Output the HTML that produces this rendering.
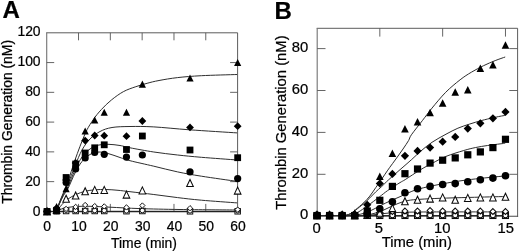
<!DOCTYPE html>
<html><head><meta charset="utf-8"><title>Thrombin Generation</title>
<style>
html,body{margin:0;padding:0;background:#fff;}
body{width:520px;height:252px;overflow:hidden;font-family:"Liberation Sans",sans-serif;}
svg{display:block;filter:blur(0.3px);}
svg text{font-family:"Liberation Sans",sans-serif;fill:#000;stroke:#000;stroke-width:0.22px;}
</style></head>
<body>
<svg width="520" height="252" viewBox="0 0 520 252">
<rect width="520" height="252" fill="#fff"/>
<path d="M46.20 32.80 H237.60 V211.90" fill="none" stroke="#4a4a4a" stroke-width="0.9"/>
<path d="M46.70 32.80 V211.90" fill="none" stroke="#777" stroke-width="1.15"/>
<path d="M46.20 211.40 H238.10" fill="none" stroke="#4a4a4a" stroke-width="1.1"/>
<path d="M78.52 32.80 v7.50 M78.52 211.40 v-7.50" stroke="#555" stroke-width="0.9"/>
<path d="M110.33 32.80 v7.50 M110.33 211.40 v-7.50" stroke="#555" stroke-width="0.9"/>
<path d="M142.15 32.80 v7.50 M142.15 211.40 v-7.50" stroke="#555" stroke-width="0.9"/>
<path d="M173.97 32.80 v7.50 M173.97 211.40 v-7.50" stroke="#555" stroke-width="0.9"/>
<path d="M205.78 32.80 v7.50 M205.78 211.40 v-7.50" stroke="#555" stroke-width="0.9"/>
<path d="M46.70 181.63 h7.50 M237.60 181.63 h-7.50" stroke="#555" stroke-width="0.9"/>
<path d="M46.70 151.87 h7.50 M237.60 151.87 h-7.50" stroke="#555" stroke-width="0.9"/>
<path d="M46.70 122.10 h7.50 M237.60 122.10 h-7.50" stroke="#555" stroke-width="0.9"/>
<path d="M46.70 92.33 h7.50 M237.60 92.33 h-7.50" stroke="#555" stroke-width="0.9"/>
<path d="M46.70 62.57 h7.50 M237.60 62.57 h-7.50" stroke="#555" stroke-width="0.9"/>
<path d="M56.50 211.00 C57.02 209.50 58.43 205.08 59.60 202.00 C60.77 198.92 62.10 195.92 63.50 192.50 C64.90 189.08 66.08 186.92 68.00 181.50 C69.92 176.08 72.17 167.92 75.00 160.00 C77.83 152.08 82.00 140.67 85.00 134.00 C88.00 127.33 90.27 124.08 93.00 120.00 C95.73 115.92 98.33 112.83 101.40 109.50 C104.47 106.17 107.75 102.97 111.40 100.00 C115.05 97.03 119.33 93.88 123.30 91.70 C127.27 89.52 131.23 88.30 135.20 86.90 C139.17 85.50 143.13 84.37 147.10 83.30 C151.07 82.23 153.92 81.45 159.00 80.50 C164.08 79.55 170.53 78.40 177.60 77.60 C184.67 76.80 191.48 76.22 201.40 75.70 C211.32 75.18 231.15 74.70 237.10 74.50" fill="none" stroke="#2e2e2e" stroke-width="1"/>
<path d="M56.50 211.00 C57.02 209.58 58.43 205.42 59.60 202.50 C60.77 199.58 62.10 196.58 63.50 193.50 C64.90 190.42 66.08 188.58 68.00 184.00 C69.92 179.42 72.67 171.67 75.00 166.00 C77.33 160.33 79.50 154.50 82.00 150.00 C84.50 145.50 87.00 142.08 90.00 139.00 C93.00 135.92 96.33 133.42 100.00 131.50 C103.67 129.58 107.00 128.33 112.00 127.50 C117.00 126.67 123.03 126.60 130.00 126.50 C136.97 126.40 143.88 126.35 153.80 126.90 C163.72 127.45 175.62 128.80 189.50 129.80 C203.38 130.80 229.17 132.38 237.10 132.90" fill="none" stroke="#2e2e2e" stroke-width="1"/>
<path d="M56.50 211.00 C57.02 209.67 58.43 205.75 59.60 203.00 C60.77 200.25 62.10 197.25 63.50 194.50 C64.90 191.75 66.08 190.58 68.00 186.50 C69.92 182.42 72.67 174.92 75.00 170.00 C77.33 165.08 79.50 160.50 82.00 157.00 C84.50 153.50 87.33 150.97 90.00 149.00 C92.67 147.03 95.00 145.98 98.00 145.20 C101.00 144.42 104.33 144.25 108.00 144.30 C111.67 144.35 116.33 144.92 120.00 145.50 C123.67 146.08 124.37 146.72 130.00 147.80 C135.63 148.88 145.87 150.80 153.80 152.00 C161.73 153.20 169.67 154.12 177.60 155.00 C185.53 155.88 191.48 156.47 201.40 157.30 C211.32 158.13 231.15 159.55 237.10 160.00" fill="none" stroke="#2e2e2e" stroke-width="1"/>
<path d="M56.50 211.00 C57.02 209.75 58.43 206.08 59.60 203.50 C60.77 200.92 62.10 198.00 63.50 195.50 C64.90 193.00 66.08 192.25 68.00 188.50 C69.92 184.75 72.67 177.50 75.00 173.00 C77.33 168.50 79.50 164.58 82.00 161.50 C84.50 158.42 87.33 156.08 90.00 154.50 C92.67 152.92 95.00 152.17 98.00 152.00 C101.00 151.83 104.33 152.58 108.00 153.50 C111.67 154.42 116.33 156.30 120.00 157.50 C123.67 158.70 124.37 159.25 130.00 160.70 C135.63 162.15 145.87 164.33 153.80 166.20 C161.73 168.07 169.67 170.23 177.60 171.90 C185.53 173.57 191.48 174.62 201.40 176.20 C211.32 177.78 231.15 180.53 237.10 181.40" fill="none" stroke="#2e2e2e" stroke-width="1"/>
<path d="M57.00 211.00 C57.83 209.92 60.17 206.50 62.00 204.50 C63.83 202.50 65.67 200.67 68.00 199.00 C70.33 197.33 73.17 195.78 76.00 194.50 C78.83 193.22 81.83 192.08 85.00 191.30 C88.17 190.52 91.50 190.10 95.00 189.80 C98.50 189.50 102.17 189.42 106.00 189.50 C109.83 189.58 114.00 189.93 118.00 190.30 C122.00 190.67 124.03 191.00 130.00 191.70 C135.97 192.40 145.87 193.52 153.80 194.50 C161.73 195.48 169.67 196.65 177.60 197.60 C185.53 198.55 191.48 199.32 201.40 200.20 C211.32 201.08 231.15 202.45 237.10 202.90" fill="none" stroke="#2e2e2e" stroke-width="1"/>
<path d="M57.00 211.00 C58.17 210.53 61.00 208.93 64.00 208.20 C67.00 207.47 70.67 206.92 75.00 206.60 C79.33 206.28 84.17 206.20 90.00 206.30 C95.83 206.40 101.67 206.82 110.00 207.20 C118.33 207.58 128.33 208.22 140.00 208.60 C151.67 208.98 163.82 209.27 180.00 209.50 C196.18 209.73 227.58 209.92 237.10 210.00" fill="none" stroke="#2e2e2e" stroke-width="1"/>
<path d="M46.70 211.60 H237.60" stroke="#222" stroke-width="1.2"/>
<rect x="44.30" y="208.75" width="5.50" height="5.50" fill="#fff" stroke="#0a0a0a" stroke-width="0.95"/>
<rect x="53.83" y="208.55" width="5.50" height="5.50" fill="#fff" stroke="#0a0a0a" stroke-width="0.95"/>
<rect x="63.36" y="208.25" width="5.50" height="5.50" fill="#fff" stroke="#0a0a0a" stroke-width="0.95"/>
<rect x="72.89" y="208.25" width="5.50" height="5.50" fill="#fff" stroke="#0a0a0a" stroke-width="0.95"/>
<rect x="82.42" y="208.25" width="5.50" height="5.50" fill="#fff" stroke="#0a0a0a" stroke-width="0.95"/>
<rect x="91.95" y="208.25" width="5.50" height="5.50" fill="#fff" stroke="#0a0a0a" stroke-width="0.95"/>
<rect x="101.49" y="208.25" width="5.50" height="5.50" fill="#fff" stroke="#0a0a0a" stroke-width="0.95"/>
<rect x="123.72" y="208.45" width="5.50" height="5.50" fill="#fff" stroke="#0a0a0a" stroke-width="0.95"/>
<rect x="139.61" y="208.25" width="5.50" height="5.50" fill="#fff" stroke="#0a0a0a" stroke-width="0.95"/>
<rect x="187.26" y="208.55" width="5.50" height="5.50" fill="#fff" stroke="#0a0a0a" stroke-width="0.95"/>
<rect x="234.92" y="208.55" width="5.50" height="5.50" fill="#fff" stroke="#0a0a0a" stroke-width="0.95"/>
<circle cx="47.05" cy="211.50" r="2.30" fill="#fff" stroke="#0a0a0a" stroke-width="0.95"/>
<circle cx="56.58" cy="211.30" r="2.30" fill="#fff" stroke="#0a0a0a" stroke-width="0.95"/>
<circle cx="66.11" cy="210.20" r="2.30" fill="#fff" stroke="#0a0a0a" stroke-width="0.95"/>
<circle cx="75.64" cy="210.50" r="2.30" fill="#fff" stroke="#0a0a0a" stroke-width="0.95"/>
<circle cx="85.17" cy="210.50" r="2.30" fill="#fff" stroke="#0a0a0a" stroke-width="0.95"/>
<circle cx="94.70" cy="210.50" r="2.30" fill="#fff" stroke="#0a0a0a" stroke-width="0.95"/>
<circle cx="104.24" cy="210.50" r="2.30" fill="#fff" stroke="#0a0a0a" stroke-width="0.95"/>
<circle cx="126.47" cy="210.80" r="2.30" fill="#fff" stroke="#0a0a0a" stroke-width="0.95"/>
<circle cx="142.36" cy="210.50" r="2.30" fill="#fff" stroke="#0a0a0a" stroke-width="0.95"/>
<circle cx="190.01" cy="210.80" r="2.30" fill="#fff" stroke="#0a0a0a" stroke-width="0.95"/>
<circle cx="237.67" cy="210.80" r="2.30" fill="#fff" stroke="#0a0a0a" stroke-width="0.95"/>
<path d="M47.05 208.65 L49.70 211.30 L47.05 213.95 L44.40 211.30 Z" fill="#fff" stroke="#0a0a0a" stroke-width="0.95"/>
<path d="M56.58 207.85 L59.23 210.50 L56.58 213.15 L53.93 210.50 Z" fill="#fff" stroke="#0a0a0a" stroke-width="0.95"/>
<path d="M66.11 206.25 L68.76 208.90 L66.11 211.55 L63.46 208.90 Z" fill="#fff" stroke="#0a0a0a" stroke-width="0.95"/>
<path d="M75.64 204.25 L78.29 206.90 L75.64 209.55 L72.99 206.90 Z" fill="#fff" stroke="#0a0a0a" stroke-width="0.95"/>
<path d="M85.17 202.35 L87.82 205.00 L85.17 207.65 L82.52 205.00 Z" fill="#fff" stroke="#0a0a0a" stroke-width="0.95"/>
<path d="M94.70 203.45 L97.36 206.10 L94.70 208.75 L92.05 206.10 Z" fill="#fff" stroke="#0a0a0a" stroke-width="0.95"/>
<path d="M104.24 203.75 L106.89 206.40 L104.24 209.05 L101.59 206.40 Z" fill="#fff" stroke="#0a0a0a" stroke-width="0.95"/>
<path d="M126.47 204.75 L129.12 207.40 L126.47 210.05 L123.82 207.40 Z" fill="#fff" stroke="#0a0a0a" stroke-width="0.95"/>
<path d="M142.36 202.85 L145.01 205.50 L142.36 208.15 L139.71 205.50 Z" fill="#fff" stroke="#0a0a0a" stroke-width="0.95"/>
<path d="M190.01 205.55 L192.66 208.20 L190.01 210.85 L187.36 208.20 Z" fill="#fff" stroke="#0a0a0a" stroke-width="0.95"/>
<path d="M237.67 206.95 L240.32 209.60 L237.67 212.25 L235.02 209.60 Z" fill="#fff" stroke="#0a0a0a" stroke-width="0.95"/>
<path d="M47.05 207.90 L50.35 214.90 L43.75 214.90 Z" fill="#fff" stroke="#0a0a0a" stroke-width="1.05"/>
<path d="M56.58 206.40 L59.88 213.40 L53.28 213.40 Z" fill="#fff" stroke="#0a0a0a" stroke-width="1.05"/>
<path d="M66.11 195.30 L69.41 202.30 L62.81 202.30 Z" fill="#fff" stroke="#0a0a0a" stroke-width="1.05"/>
<path d="M75.64 192.00 L78.94 199.00 L72.34 199.00 Z" fill="#fff" stroke="#0a0a0a" stroke-width="1.05"/>
<path d="M85.17 187.70 L88.47 194.70 L81.87 194.70 Z" fill="#fff" stroke="#0a0a0a" stroke-width="1.05"/>
<path d="M94.70 186.40 L98.00 193.40 L91.41 193.40 Z" fill="#fff" stroke="#0a0a0a" stroke-width="1.05"/>
<path d="M104.24 186.40 L107.54 193.40 L100.94 193.40 Z" fill="#fff" stroke="#0a0a0a" stroke-width="1.05"/>
<path d="M126.47 191.10 L129.78 198.10 L123.17 198.10 Z" fill="#fff" stroke="#0a0a0a" stroke-width="1.05"/>
<path d="M142.36 186.90 L145.66 193.90 L139.06 193.90 Z" fill="#fff" stroke="#0a0a0a" stroke-width="1.05"/>
<path d="M190.01 179.50 L193.31 186.50 L186.71 186.50 Z" fill="#fff" stroke="#0a0a0a" stroke-width="1.05"/>
<path d="M237.67 187.10 L240.97 194.10 L234.37 194.10 Z" fill="#fff" stroke="#0a0a0a" stroke-width="1.05"/>
<circle cx="47.05" cy="211.50" r="3.60" fill="#000"/>
<circle cx="56.58" cy="209.50" r="3.60" fill="#000"/>
<circle cx="66.11" cy="182.50" r="3.60" fill="#000"/>
<circle cx="75.64" cy="169.00" r="3.60" fill="#000"/>
<circle cx="85.17" cy="158.00" r="3.60" fill="#000"/>
<circle cx="94.70" cy="152.50" r="3.60" fill="#000"/>
<circle cx="104.24" cy="154.30" r="3.60" fill="#000"/>
<circle cx="126.47" cy="157.10" r="3.60" fill="#000"/>
<circle cx="142.36" cy="155.00" r="3.60" fill="#000"/>
<circle cx="190.01" cy="171.90" r="3.60" fill="#000"/>
<circle cx="237.67" cy="178.60" r="3.60" fill="#000"/>
<rect x="43.65" y="208.15" width="6.80" height="6.80" fill="#000"/>
<rect x="53.18" y="206.90" width="6.80" height="6.80" fill="#000"/>
<rect x="62.71" y="174.10" width="6.80" height="6.80" fill="#000"/>
<rect x="72.24" y="160.60" width="6.80" height="6.80" fill="#000"/>
<rect x="81.77" y="149.60" width="6.80" height="6.80" fill="#000"/>
<rect x="91.30" y="144.40" width="6.80" height="6.80" fill="#000"/>
<rect x="100.84" y="141.40" width="6.80" height="6.80" fill="#000"/>
<rect x="123.07" y="146.10" width="6.80" height="6.80" fill="#000"/>
<rect x="138.96" y="132.60" width="6.80" height="6.80" fill="#000"/>
<rect x="186.61" y="146.60" width="6.80" height="6.80" fill="#000"/>
<rect x="234.27" y="154.30" width="6.80" height="6.80" fill="#000"/>
<path d="M47.05 207.60 L50.95 211.50 L47.05 215.40 L43.15 211.50 Z" fill="#000"/>
<path d="M56.58 204.60 L60.48 208.50 L56.58 212.40 L52.68 208.50 Z" fill="#000"/>
<path d="M66.11 176.10 L70.01 180.00 L66.11 183.90 L62.21 180.00 Z" fill="#000"/>
<path d="M75.64 159.10 L79.54 163.00 L75.64 166.90 L71.74 163.00 Z" fill="#000"/>
<path d="M85.17 136.70 L89.07 140.60 L85.17 144.50 L81.27 140.60 Z" fill="#000"/>
<path d="M94.70 131.60 L98.61 135.50 L94.70 139.40 L90.80 135.50 Z" fill="#000"/>
<path d="M104.24 131.80 L108.14 135.70 L104.24 139.60 L100.34 135.70 Z" fill="#000"/>
<path d="M126.47 132.30 L130.38 136.20 L126.47 140.10 L122.57 136.20 Z" fill="#000"/>
<path d="M142.36 117.10 L146.26 121.00 L142.36 124.90 L138.46 121.00 Z" fill="#000"/>
<path d="M190.01 123.50 L193.91 127.40 L190.01 131.30 L186.11 127.40 Z" fill="#000"/>
<path d="M237.67 122.30 L241.57 126.20 L237.67 130.10 L233.77 126.20 Z" fill="#000"/>
<path d="M47.05 207.80 L50.65 214.90 L43.45 214.90 Z" fill="#000"/>
<path d="M56.58 203.00 L60.18 210.10 L52.98 210.10 Z" fill="#000"/>
<path d="M66.11 185.10 L69.71 192.20 L62.51 192.20 Z" fill="#000"/>
<path d="M75.64 162.30 L79.24 169.40 L72.04 169.40 Z" fill="#000"/>
<path d="M85.17 127.50 L88.77 134.60 L81.57 134.60 Z" fill="#000"/>
<path d="M94.70 116.50 L98.31 123.60 L91.10 123.60 Z" fill="#000"/>
<path d="M104.24 108.70 L107.84 115.80 L100.64 115.80 Z" fill="#000"/>
<path d="M126.47 108.70 L130.07 115.80 L122.87 115.80 Z" fill="#000"/>
<path d="M142.36 80.60 L145.96 87.70 L138.76 87.70 Z" fill="#000"/>
<path d="M190.01 74.40 L193.61 81.50 L186.41 81.50 Z" fill="#000"/>
<path d="M237.67 58.90 L241.27 66.00 L234.07 66.00 Z" fill="#000"/>
<text x="40.60" y="35.80" font-size="13.90" text-anchor="end" font-weight="normal" >120</text>
<text x="40.60" y="65.80" font-size="13.90" text-anchor="end" font-weight="normal" >100</text>
<text x="40.60" y="95.80" font-size="13.90" text-anchor="end" font-weight="normal" >80</text>
<text x="40.60" y="125.80" font-size="13.90" text-anchor="end" font-weight="normal" >60</text>
<text x="40.60" y="155.80" font-size="13.90" text-anchor="end" font-weight="normal" >40</text>
<text x="40.60" y="185.80" font-size="13.90" text-anchor="end" font-weight="normal" >20</text>
<text x="40.60" y="215.80" font-size="13.90" text-anchor="end" font-weight="normal" >0</text>
<text x="47.20" y="231.40" font-size="13.90" text-anchor="middle" font-weight="normal" >0</text>
<text x="79.02" y="231.40" font-size="13.90" text-anchor="middle" font-weight="normal" >10</text>
<text x="110.83" y="231.40" font-size="13.90" text-anchor="middle" font-weight="normal" >20</text>
<text x="142.65" y="231.40" font-size="13.90" text-anchor="middle" font-weight="normal" >30</text>
<text x="174.47" y="231.40" font-size="13.90" text-anchor="middle" font-weight="normal" >40</text>
<text x="206.28" y="231.40" font-size="13.90" text-anchor="middle" font-weight="normal" >50</text>
<text x="238.10" y="231.40" font-size="13.90" text-anchor="middle" font-weight="normal" >60</text>
<text x="144.00" y="247.50" font-size="13.90" text-anchor="middle" font-weight="normal" >Time (min)</text>
<text transform="translate(12.0 121.8) rotate(-90)" font-size="13.90" text-anchor="middle">Thrombin Generation (nM)</text>
<text x="2.60" y="18.40" font-size="24.00" text-anchor="start" font-weight="bold" >A</text>
<path d="M316.70 28.30 H517.60 V216.80" fill="none" stroke="#4a4a4a" stroke-width="0.9"/>
<path d="M317.20 28.30 V216.80" fill="none" stroke="#777" stroke-width="1.15"/>
<path d="M316.70 216.30 H518.10" fill="none" stroke="#4a4a4a" stroke-width="1.1"/>
<path d="M379.82 28.30 v8.30 M379.82 216.30 v-8.30" stroke="#555" stroke-width="0.9"/>
<path d="M442.65 28.30 v8.30 M442.65 216.30 v-8.30" stroke="#555" stroke-width="0.9"/>
<path d="M505.48 28.30 v8.30 M505.48 216.30 v-8.30" stroke="#555" stroke-width="0.9"/>
<path d="M317.20 174.30 h8.30 M517.60 174.30 h-8.30" stroke="#555" stroke-width="0.9"/>
<path d="M317.20 132.40 h8.30 M517.60 132.40 h-8.30" stroke="#555" stroke-width="0.9"/>
<path d="M317.20 90.50 h8.30 M517.60 90.50 h-8.30" stroke="#555" stroke-width="0.9"/>
<path d="M317.20 48.60 h8.30 M517.60 48.60 h-8.30" stroke="#555" stroke-width="0.9"/>
<path d="M340.00 215.80 C341.00 215.70 344.17 215.62 346.00 215.20 C347.83 214.78 349.42 214.20 351.00 213.30 C352.58 212.40 353.37 211.58 355.50 209.80 C357.63 208.02 361.42 204.88 363.80 202.60 C366.18 200.32 367.82 198.58 369.80 196.10 C371.78 193.62 373.82 190.38 375.70 187.70 C377.58 185.02 379.55 182.25 381.10 180.00 C382.65 177.75 383.55 176.32 385.00 174.20 C386.45 172.08 387.98 169.83 389.80 167.30 C391.62 164.77 393.70 162.05 395.90 159.00 C398.10 155.95 400.88 152.08 403.00 149.00 C405.12 145.92 407.20 142.87 408.60 140.50 C410.00 138.13 409.07 138.17 411.40 134.80 C413.73 131.43 419.17 124.75 422.60 120.30 C426.03 115.85 428.15 112.77 432.00 108.10 C435.85 103.43 441.02 97.02 445.70 92.30 C450.38 87.58 455.82 83.15 460.10 79.80 C464.38 76.45 467.53 74.53 471.40 72.20 C475.27 69.87 479.33 67.73 483.30 65.80 C487.27 63.87 491.55 62.07 495.20 60.60 C498.85 59.13 503.53 57.60 505.20 57.00" fill="none" stroke="#2e2e2e" stroke-width="1"/>
<path d="M340.00 215.80 C341.00 215.72 344.17 215.67 346.00 215.30 C347.83 214.93 349.42 214.45 351.00 213.60 C352.58 212.75 353.37 211.87 355.50 210.20 C357.63 208.53 361.42 205.65 363.80 203.60 C366.18 201.55 367.82 199.85 369.80 197.90 C371.78 195.95 373.72 193.80 375.70 191.90 C377.68 190.00 379.55 188.52 381.70 186.50 C383.85 184.48 385.55 182.60 388.60 179.80 C391.65 177.00 396.15 173.08 400.00 169.70 C403.85 166.32 408.25 162.58 411.70 159.50 C415.15 156.42 417.32 154.07 420.70 151.20 C424.08 148.33 427.78 145.13 432.00 142.30 C436.22 139.47 441.68 136.55 446.00 134.20 C450.32 131.85 453.93 129.90 457.90 128.20 C461.87 126.50 465.83 125.28 469.80 124.00 C473.77 122.72 477.93 121.52 481.70 120.50 C485.47 119.48 489.35 118.60 492.40 117.90 C495.45 117.20 497.87 116.72 500.00 116.30 C502.13 115.88 504.33 115.55 505.20 115.40" fill="none" stroke="#2e2e2e" stroke-width="1"/>
<path d="M342.00 215.90 C343.33 215.78 347.33 215.82 350.00 215.20 C352.67 214.58 355.10 213.75 358.00 212.20 C360.90 210.65 363.85 208.43 367.40 205.90 C370.95 203.37 375.93 199.55 379.30 197.00 C382.67 194.45 384.15 193.00 387.60 190.60 C391.05 188.20 397.07 184.43 400.00 182.60 C402.93 180.77 401.75 181.77 405.20 179.60 C408.65 177.43 416.13 172.35 420.70 169.60 C425.27 166.85 428.38 165.30 432.60 163.10 C436.82 160.90 440.80 158.50 446.00 156.40 C451.20 154.30 458.85 151.98 463.80 150.50 C468.75 149.02 471.73 148.33 475.70 147.50 C479.67 146.67 483.55 146.10 487.60 145.50 C491.65 144.90 497.07 144.27 500.00 143.90 C502.93 143.53 504.33 143.40 505.20 143.30" fill="none" stroke="#2e2e2e" stroke-width="1"/>
<path d="M344.00 216.00 C345.83 215.87 351.50 215.70 355.00 215.20 C358.50 214.70 362.00 213.95 365.00 213.00 C368.00 212.05 370.22 210.83 373.00 209.50 C375.78 208.17 378.87 206.42 381.70 205.00 C384.53 203.58 386.95 202.38 390.00 201.00 C393.05 199.62 396.35 198.32 400.00 196.70 C403.65 195.08 407.93 192.80 411.90 191.30 C415.87 189.80 417.85 189.10 423.80 187.70 C429.75 186.30 439.67 184.28 447.60 182.90 C455.53 181.52 461.80 180.57 471.40 179.40 C481.00 178.23 499.57 176.48 505.20 175.90" fill="none" stroke="#2e2e2e" stroke-width="1"/>
<path d="M350.00 216.00 C352.50 215.87 360.33 215.82 365.00 215.20 C369.67 214.58 374.17 213.50 378.00 212.30 C381.83 211.10 384.67 209.47 388.00 208.00 C391.33 206.53 394.67 204.75 398.00 203.50 C401.33 202.25 404.33 201.20 408.00 200.50 C411.67 199.80 414.67 199.67 420.00 199.30 C425.33 198.93 431.67 198.62 440.00 198.30 C448.33 197.98 459.13 197.70 470.00 197.40 C480.87 197.10 499.33 196.65 505.20 196.50" fill="none" stroke="#2e2e2e" stroke-width="1"/>
<path d="M355.00 216.00 C357.50 215.87 365.00 215.63 370.00 215.20 C375.00 214.77 380.00 213.87 385.00 213.40 C390.00 212.93 394.17 212.63 400.00 212.40 C405.83 212.17 411.67 212.08 420.00 212.00 C428.33 211.92 435.80 211.92 450.00 211.90 C464.20 211.88 496.00 211.90 505.20 211.90" fill="none" stroke="#2e2e2e" stroke-width="1"/>
<path d="M317.20 215.50 H505.48" stroke="#2a2a2a" stroke-width="1.2"/>
<rect x="313.98" y="212.47" width="6.05" height="6.05" fill="#fff" stroke="#0a0a0a" stroke-width="1.05"/>
<rect x="326.54" y="212.47" width="6.05" height="6.05" fill="#fff" stroke="#0a0a0a" stroke-width="1.05"/>
<rect x="339.11" y="212.47" width="6.05" height="6.05" fill="#fff" stroke="#0a0a0a" stroke-width="1.05"/>
<rect x="351.67" y="212.47" width="6.05" height="6.05" fill="#fff" stroke="#0a0a0a" stroke-width="1.05"/>
<rect x="364.24" y="212.47" width="6.05" height="6.05" fill="#fff" stroke="#0a0a0a" stroke-width="1.05"/>
<rect x="376.80" y="212.47" width="6.05" height="6.05" fill="#fff" stroke="#0a0a0a" stroke-width="1.05"/>
<rect x="389.37" y="212.47" width="6.05" height="6.05" fill="#fff" stroke="#0a0a0a" stroke-width="1.05"/>
<rect x="401.93" y="212.47" width="6.05" height="6.05" fill="#fff" stroke="#0a0a0a" stroke-width="1.05"/>
<rect x="414.50" y="212.47" width="6.05" height="6.05" fill="#fff" stroke="#0a0a0a" stroke-width="1.05"/>
<rect x="427.06" y="212.47" width="6.05" height="6.05" fill="#fff" stroke="#0a0a0a" stroke-width="1.05"/>
<rect x="439.62" y="212.47" width="6.05" height="6.05" fill="#fff" stroke="#0a0a0a" stroke-width="1.05"/>
<rect x="452.19" y="212.47" width="6.05" height="6.05" fill="#fff" stroke="#0a0a0a" stroke-width="1.05"/>
<rect x="464.75" y="212.47" width="6.05" height="6.05" fill="#fff" stroke="#0a0a0a" stroke-width="1.05"/>
<rect x="477.32" y="212.47" width="6.05" height="6.05" fill="#fff" stroke="#0a0a0a" stroke-width="1.05"/>
<rect x="489.88" y="212.47" width="6.05" height="6.05" fill="#fff" stroke="#0a0a0a" stroke-width="1.05"/>
<rect x="502.45" y="212.47" width="6.05" height="6.05" fill="#fff" stroke="#0a0a0a" stroke-width="1.05"/>
<circle cx="317.00" cy="215.30" r="2.53" fill="#fff" stroke="#0a0a0a" stroke-width="1.05"/>
<circle cx="329.56" cy="215.30" r="2.53" fill="#fff" stroke="#0a0a0a" stroke-width="1.05"/>
<circle cx="342.13" cy="215.30" r="2.53" fill="#fff" stroke="#0a0a0a" stroke-width="1.05"/>
<circle cx="354.69" cy="215.30" r="2.53" fill="#fff" stroke="#0a0a0a" stroke-width="1.05"/>
<circle cx="367.26" cy="215.30" r="2.53" fill="#fff" stroke="#0a0a0a" stroke-width="1.05"/>
<circle cx="379.82" cy="215.30" r="2.53" fill="#fff" stroke="#0a0a0a" stroke-width="1.05"/>
<circle cx="392.39" cy="215.30" r="2.53" fill="#fff" stroke="#0a0a0a" stroke-width="1.05"/>
<circle cx="404.95" cy="215.30" r="2.53" fill="#fff" stroke="#0a0a0a" stroke-width="1.05"/>
<circle cx="417.52" cy="215.30" r="2.53" fill="#fff" stroke="#0a0a0a" stroke-width="1.05"/>
<circle cx="430.08" cy="215.30" r="2.53" fill="#fff" stroke="#0a0a0a" stroke-width="1.05"/>
<circle cx="442.65" cy="215.30" r="2.53" fill="#fff" stroke="#0a0a0a" stroke-width="1.05"/>
<circle cx="455.22" cy="215.30" r="2.53" fill="#fff" stroke="#0a0a0a" stroke-width="1.05"/>
<circle cx="467.78" cy="215.30" r="2.53" fill="#fff" stroke="#0a0a0a" stroke-width="1.05"/>
<circle cx="480.35" cy="215.30" r="2.53" fill="#fff" stroke="#0a0a0a" stroke-width="1.05"/>
<circle cx="492.91" cy="215.30" r="2.53" fill="#fff" stroke="#0a0a0a" stroke-width="1.05"/>
<circle cx="505.48" cy="215.30" r="2.53" fill="#fff" stroke="#0a0a0a" stroke-width="1.05"/>
<path d="M317.00 212.39 L319.92 215.30 L317.00 218.22 L314.08 215.30 Z" fill="#fff" stroke="#0a0a0a" stroke-width="1.05"/>
<path d="M329.56 212.39 L332.48 215.30 L329.56 218.22 L326.65 215.30 Z" fill="#fff" stroke="#0a0a0a" stroke-width="1.05"/>
<path d="M342.13 212.39 L345.05 215.30 L342.13 218.22 L339.21 215.30 Z" fill="#fff" stroke="#0a0a0a" stroke-width="1.05"/>
<path d="M354.69 212.39 L357.61 215.30 L354.69 218.22 L351.78 215.30 Z" fill="#fff" stroke="#0a0a0a" stroke-width="1.05"/>
<path d="M367.26 211.59 L370.18 214.50 L367.26 217.41 L364.34 214.50 Z" fill="#fff" stroke="#0a0a0a" stroke-width="1.05"/>
<path d="M379.82 209.59 L382.74 212.50 L379.82 215.41 L376.91 212.50 Z" fill="#fff" stroke="#0a0a0a" stroke-width="1.05"/>
<path d="M392.39 208.59 L395.31 211.50 L392.39 214.41 L389.47 211.50 Z" fill="#fff" stroke="#0a0a0a" stroke-width="1.05"/>
<path d="M404.95 208.09 L407.87 211.00 L404.95 213.91 L402.04 211.00 Z" fill="#fff" stroke="#0a0a0a" stroke-width="1.05"/>
<path d="M417.52 208.09 L420.44 211.00 L417.52 213.91 L414.60 211.00 Z" fill="#fff" stroke="#0a0a0a" stroke-width="1.05"/>
<path d="M430.08 207.59 L433.00 210.50 L430.08 213.41 L427.17 210.50 Z" fill="#fff" stroke="#0a0a0a" stroke-width="1.05"/>
<path d="M442.65 208.09 L445.56 211.00 L442.65 213.91 L439.73 211.00 Z" fill="#fff" stroke="#0a0a0a" stroke-width="1.05"/>
<path d="M455.22 208.09 L458.13 211.00 L455.22 213.91 L452.30 211.00 Z" fill="#fff" stroke="#0a0a0a" stroke-width="1.05"/>
<path d="M467.78 208.09 L470.69 211.00 L467.78 213.91 L464.86 211.00 Z" fill="#fff" stroke="#0a0a0a" stroke-width="1.05"/>
<path d="M480.35 208.09 L483.26 211.00 L480.35 213.91 L477.43 211.00 Z" fill="#fff" stroke="#0a0a0a" stroke-width="1.05"/>
<path d="M492.91 208.59 L495.82 211.50 L492.91 214.41 L489.99 211.50 Z" fill="#fff" stroke="#0a0a0a" stroke-width="1.05"/>
<path d="M505.48 208.59 L508.39 211.50 L505.48 214.41 L502.56 211.50 Z" fill="#fff" stroke="#0a0a0a" stroke-width="1.05"/>
<path d="M317.00 211.70 L320.30 218.70 L313.70 218.70 Z" fill="#fff" stroke="#0a0a0a" stroke-width="1.05"/>
<path d="M329.56 211.70 L332.87 218.70 L326.26 218.70 Z" fill="#fff" stroke="#0a0a0a" stroke-width="1.05"/>
<path d="M342.13 211.70 L345.43 218.70 L338.83 218.70 Z" fill="#fff" stroke="#0a0a0a" stroke-width="1.05"/>
<path d="M354.69 211.70 L358.00 218.70 L351.39 218.70 Z" fill="#fff" stroke="#0a0a0a" stroke-width="1.05"/>
<path d="M367.26 211.40 L370.56 218.40 L363.96 218.40 Z" fill="#fff" stroke="#0a0a0a" stroke-width="1.05"/>
<path d="M379.82 209.20 L383.12 216.20 L376.52 216.20 Z" fill="#fff" stroke="#0a0a0a" stroke-width="1.05"/>
<path d="M392.39 204.60 L395.69 211.60 L389.09 211.60 Z" fill="#fff" stroke="#0a0a0a" stroke-width="1.05"/>
<path d="M404.95 197.80 L408.25 204.80 L401.65 204.80 Z" fill="#fff" stroke="#0a0a0a" stroke-width="1.05"/>
<path d="M417.52 196.30 L420.82 203.30 L414.22 203.30 Z" fill="#fff" stroke="#0a0a0a" stroke-width="1.05"/>
<path d="M430.08 195.10 L433.38 202.10 L426.78 202.10 Z" fill="#fff" stroke="#0a0a0a" stroke-width="1.05"/>
<path d="M442.65 193.90 L445.95 200.90 L439.35 200.90 Z" fill="#fff" stroke="#0a0a0a" stroke-width="1.05"/>
<path d="M455.22 196.30 L458.52 203.30 L451.92 203.30 Z" fill="#fff" stroke="#0a0a0a" stroke-width="1.05"/>
<path d="M467.78 194.40 L471.08 201.40 L464.48 201.40 Z" fill="#fff" stroke="#0a0a0a" stroke-width="1.05"/>
<path d="M480.35 193.90 L483.65 200.90 L477.05 200.90 Z" fill="#fff" stroke="#0a0a0a" stroke-width="1.05"/>
<path d="M492.91 193.90 L496.21 200.90 L489.61 200.90 Z" fill="#fff" stroke="#0a0a0a" stroke-width="1.05"/>
<path d="M505.48 193.30 L508.78 200.30 L502.18 200.30 Z" fill="#fff" stroke="#0a0a0a" stroke-width="1.05"/>
<circle cx="317.00" cy="215.30" r="3.80" fill="#000"/>
<circle cx="329.56" cy="215.30" r="3.80" fill="#000"/>
<circle cx="342.13" cy="215.30" r="3.80" fill="#000"/>
<circle cx="354.69" cy="215.30" r="3.80" fill="#000"/>
<circle cx="367.26" cy="214.50" r="3.80" fill="#000"/>
<circle cx="379.82" cy="208.70" r="3.80" fill="#000"/>
<circle cx="392.39" cy="201.80" r="3.80" fill="#000"/>
<circle cx="404.95" cy="192.70" r="3.80" fill="#000"/>
<circle cx="417.52" cy="188.80" r="3.80" fill="#000"/>
<circle cx="430.08" cy="186.40" r="3.80" fill="#000"/>
<circle cx="442.65" cy="184.50" r="3.80" fill="#000"/>
<circle cx="455.22" cy="183.60" r="3.80" fill="#000"/>
<circle cx="467.78" cy="181.70" r="3.80" fill="#000"/>
<circle cx="480.35" cy="179.80" r="3.80" fill="#000"/>
<circle cx="492.91" cy="178.10" r="3.80" fill="#000"/>
<circle cx="505.48" cy="175.70" r="3.80" fill="#000"/>
<rect x="313.40" y="212.20" width="7.20" height="7.20" fill="#000"/>
<rect x="325.96" y="212.20" width="7.20" height="7.20" fill="#000"/>
<rect x="338.53" y="212.20" width="7.20" height="7.20" fill="#000"/>
<rect x="351.09" y="212.20" width="7.20" height="7.20" fill="#000"/>
<rect x="363.66" y="207.40" width="7.20" height="7.20" fill="#000"/>
<rect x="376.22" y="196.70" width="7.20" height="7.20" fill="#000"/>
<rect x="388.79" y="182.80" width="7.20" height="7.20" fill="#000"/>
<rect x="401.35" y="170.10" width="7.20" height="7.20" fill="#000"/>
<rect x="413.92" y="165.40" width="7.20" height="7.20" fill="#000"/>
<rect x="426.48" y="159.50" width="7.20" height="7.20" fill="#000"/>
<rect x="439.05" y="156.60" width="7.20" height="7.20" fill="#000"/>
<rect x="451.62" y="154.30" width="7.20" height="7.20" fill="#000"/>
<rect x="464.18" y="151.20" width="7.20" height="7.20" fill="#000"/>
<rect x="476.75" y="148.30" width="7.20" height="7.20" fill="#000"/>
<rect x="489.31" y="144.00" width="7.20" height="7.20" fill="#000"/>
<rect x="501.88" y="135.70" width="7.20" height="7.20" fill="#000"/>
<path d="M317.00 211.20 L321.10 215.30 L317.00 219.40 L312.90 215.30 Z" fill="#000"/>
<path d="M329.56 211.20 L333.67 215.30 L329.56 219.40 L325.46 215.30 Z" fill="#000"/>
<path d="M342.13 211.20 L346.23 215.30 L342.13 219.40 L338.03 215.30 Z" fill="#000"/>
<path d="M354.69 210.40 L358.80 214.50 L354.69 218.60 L350.59 214.50 Z" fill="#000"/>
<path d="M367.26 200.70 L371.36 204.80 L367.26 208.90 L363.16 204.80 Z" fill="#000"/>
<path d="M379.82 179.40 L383.93 183.50 L379.82 187.60 L375.72 183.50 Z" fill="#000"/>
<path d="M392.39 169.80 L396.49 173.90 L392.39 178.00 L388.29 173.90 Z" fill="#000"/>
<path d="M404.95 151.70 L409.06 155.80 L404.95 159.90 L400.85 155.80 Z" fill="#000"/>
<path d="M417.52 146.80 L421.62 150.90 L417.52 155.00 L413.42 150.90 Z" fill="#000"/>
<path d="M430.08 143.50 L434.19 147.60 L430.08 151.70 L425.98 147.60 Z" fill="#000"/>
<path d="M442.65 137.60 L446.75 141.70 L442.65 145.80 L438.55 141.70 Z" fill="#000"/>
<path d="M455.22 132.80 L459.32 136.90 L455.22 141.00 L451.12 136.90 Z" fill="#000"/>
<path d="M467.78 124.50 L471.88 128.60 L467.78 132.70 L463.68 128.60 Z" fill="#000"/>
<path d="M480.35 119.20 L484.45 123.30 L480.35 127.40 L476.25 123.30 Z" fill="#000"/>
<path d="M492.91 114.20 L497.01 118.30 L492.91 122.40 L488.81 118.30 Z" fill="#000"/>
<path d="M505.48 107.80 L509.58 111.90 L505.48 116.00 L501.38 111.90 Z" fill="#000"/>
<path d="M317.00 210.20 L320.80 217.70 L313.20 217.70 Z" fill="#000"/>
<path d="M329.56 210.20 L333.37 217.70 L325.76 217.70 Z" fill="#000"/>
<path d="M342.13 210.20 L345.93 217.70 L338.33 217.70 Z" fill="#000"/>
<path d="M354.69 209.30 L358.50 216.80 L350.89 216.80 Z" fill="#000"/>
<path d="M367.26 205.10 L371.06 212.60 L363.46 212.60 Z" fill="#000"/>
<path d="M379.82 172.40 L383.62 179.90 L376.02 179.90 Z" fill="#000"/>
<path d="M392.39 149.40 L396.19 156.90 L388.59 156.90 Z" fill="#000"/>
<path d="M404.95 124.90 L408.75 132.40 L401.15 132.40 Z" fill="#000"/>
<path d="M417.52 118.10 L421.32 125.60 L413.72 125.60 Z" fill="#000"/>
<path d="M430.08 108.70 L433.88 116.20 L426.28 116.20 Z" fill="#000"/>
<path d="M442.65 99.20 L446.45 106.70 L438.85 106.70 Z" fill="#000"/>
<path d="M455.22 88.20 L459.02 95.70 L451.42 95.70 Z" fill="#000"/>
<path d="M467.78 85.90 L471.58 93.40 L463.98 93.40 Z" fill="#000"/>
<path d="M480.35 64.40 L484.15 71.90 L476.55 71.90 Z" fill="#000"/>
<path d="M492.91 61.10 L496.71 68.60 L489.11 68.60 Z" fill="#000"/>
<path d="M505.48 41.30 L509.28 48.80 L501.68 48.80 Z" fill="#000"/>
<text x="308.30" y="219.40" font-size="14.80" text-anchor="end" font-weight="normal" >0</text>
<text x="308.30" y="177.50" font-size="14.80" text-anchor="end" font-weight="normal" >20</text>
<text x="308.30" y="135.60" font-size="14.80" text-anchor="end" font-weight="normal" >40</text>
<text x="308.30" y="93.70" font-size="14.80" text-anchor="end" font-weight="normal" >60</text>
<text x="308.30" y="51.80" font-size="14.80" text-anchor="end" font-weight="normal" >80</text>
<text x="316.70" y="233.20" font-size="14.80" text-anchor="middle" font-weight="normal" >0</text>
<text x="378.93" y="233.20" font-size="14.80" text-anchor="middle" font-weight="normal" >5</text>
<text x="442.35" y="233.20" font-size="14.80" text-anchor="middle" font-weight="normal" >10</text>
<text x="505.68" y="233.20" font-size="14.80" text-anchor="middle" font-weight="normal" >15</text>
<text x="416.80" y="247.00" font-size="14.80" text-anchor="middle" font-weight="normal" >Time (min)</text>
<text transform="translate(286.3 122.6) rotate(-90)" font-size="14.80" text-anchor="middle">Thrombin Generation (nM)</text>
<text x="274.40" y="18.50" font-size="24.00" text-anchor="start" font-weight="bold" >B</text>
</svg>
</body></html>
